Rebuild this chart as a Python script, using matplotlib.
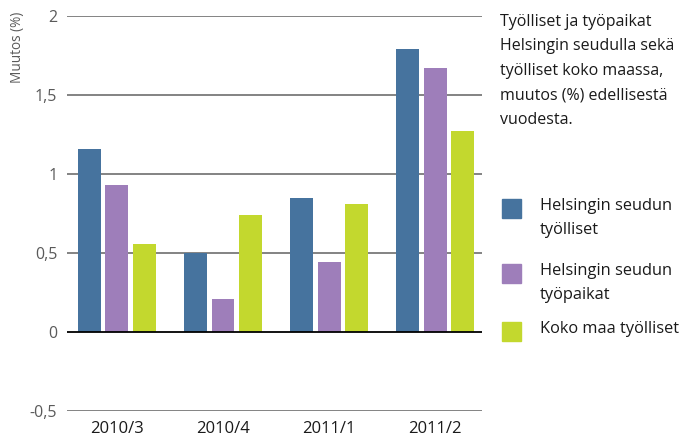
import matplotlib
matplotlib.use("Agg")
import numpy as np
from matplotlib import pyplot as plt
from matplotlib.patches import Rectangle

plt.rcParams['font.family'] = ['Open Sans', 'DejaVu Sans']

periods = ["2010/3", "2010/4", "2011/1", "2011/2"]
series_names = ["Helsingin seudun\ntyölliset",
                "Helsingin seudun\ntyöpaikat",
                "Koko maa työlliset"]
hki_tyolliset = [1.16, 0.50, 0.85, 1.79]
hki_tyopaikat = [0.93, 0.21, 0.44, 1.67]
koko_maa = [0.56, 0.74, 0.81, 1.27]
yticks = [-0.5, 0, 0.5, 1, 1.5, 2]
ytick_labels = ["-0,5", "0", "0,5", "1", "1,5", "2"]

colors = ["#46739e", "#9e7eba", "#c3d82e"]
title = ("Työlliset ja työpaikat\nHelsingin seudulla sekä\n"
         "työlliset koko maassa,\nmuutos (%) edellisestä\nvuodesta.")

W, H = 699, 438
fig = plt.figure(figsize=(W / 100, H / 100), dpi=100)
ax = fig.add_axes([67 / W, 1 - 411 / H, (482 - 67) / W, (411 - 16) / H])

x = np.arange(len(periods))
offsets = [-0.26, 0.0, 0.26]
width = 0.215
for vals, off, c in zip([hki_tyolliset, hki_tyopaikat, koko_maa], offsets, colors):
    ax.bar(x + off, vals, width, color=c, zorder=3)

ax.set_xlim(-0.47, 3.44)
ax.set_ylim(-0.5, 2)
for y in yticks:
    ax.axhline(y, color="black" if y == 0 else "#7a7a7a", lw=1.3, zorder=4 if y == 0 else 1)

ax.set_yticks(yticks)
ax.set_yticklabels(ytick_labels)
ax.set_xticks(x)
ax.set_xticklabels(periods)
ax.tick_params(axis="y", length=0, pad=7, labelsize=11.5, labelcolor="#5a5a5a")
ax.tick_params(axis="x", length=0, pad=7, labelsize=12, labelcolor="#1a1a1a")
for s in ax.spines.values():
    s.set_visible(False)

fig.text(18 / W, 1 - 12 / H, "Muutos (%)", rotation=90, va="top", ha="center",
         fontsize=9.8, color="#5a5a5a")

fig.text(500 / W, 1 - 14 / H, title, va="top", ha="left", fontsize=11.5,
         color="#1a1a1a", linespacing=1.7)

# legend drawn by hand
patch_tops = [199, 264, 322]
for top, name, c in zip(patch_tops, series_names, colors):
    fig.patches.append(Rectangle((502 / W, 1 - (top + 19) / H), 19 / W, 19 / H,
                                 transform=fig.transFigure, color=c))
    fig.text(540 / W, 1 - (top - 1) / H, name, va="top", ha="left", fontsize=11.8,
             color="#1a1a1a", linespacing=1.7)

fig.savefig("out.png", dpi=100)
